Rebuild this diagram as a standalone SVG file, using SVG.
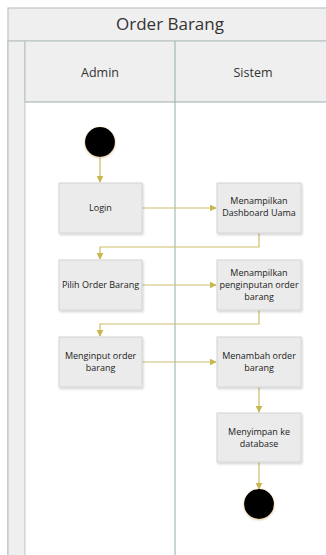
<svg xmlns="http://www.w3.org/2000/svg" width="326" height="555" viewBox="0 0 326 555">
  <style>
    .frame { fill: #efefef; stroke: #bcc6c3; stroke-width: 1.2; }
    .lane { fill: #ffffff; stroke: none; }
    .act { fill: #ebebeb; stroke: #d4d4d4; stroke-width: 1; filter: url(#shadow); }
    .lbl { font-family: "Open Sans", "Segoe UI", "Liberation Sans", sans-serif; font-size: 9px; fill: #222; text-anchor: middle; }
    .hdr { font-family: "Open Sans", "Liberation Sans", sans-serif; font-size: 12.5px; fill: #333; text-anchor: middle; }
    .title { font-family: "Open Sans", "Liberation Sans", sans-serif; font-size: 17px; fill: #333; text-anchor: middle; }
    .flow { fill: none; stroke: #cdbd6a; stroke-width: 1.2; marker-end: url(#arrow); }
    .node-dot { fill: #000; filter: url(#glow); }
  </style>
  <defs>
    <marker id="arrow" viewBox="0 0 10 10" refX="9" refY="5" markerWidth="7" markerHeight="7" orient="auto" markerUnits="userSpaceOnUse">
      <path d="M0,0 L10,5 L0,10 z" fill="#c9b64f"/>
    </marker>
    <filter id="shadow" x="-10%" y="-10%" width="125%" height="130%">
      <feDropShadow dx="1" dy="1.5" stdDeviation="1" flood-color="#000" flood-opacity="0.18"/>
    </filter>
    <filter id="glow" x="-30%" y="-30%" width="160%" height="160%">
      <feDropShadow dx="0" dy="1" stdDeviation="1" flood-color="#b08030" flood-opacity="0.5"/>
    </filter>
  </defs>

  <!-- swimlane frame -->
  <g id="pool">
    <rect class="frame" x="8" y="8" width="330" height="560"/>
    <line x1="8" y1="41" x2="338" y2="41" stroke="#bcc6c3" stroke-width="1.2"/>
    <rect class="frame" x="8" y="41" width="17" height="527"/>
    <rect class="frame" x="25" y="41" width="313" height="61"/>
    <rect class="lane" x="25.6" y="102.6" width="312" height="465"/>
    <line x1="25" y1="102" x2="338" y2="102" stroke="#bcc6c3" stroke-width="1.2"/>
    <line x1="175" y1="41" x2="175" y2="568" stroke="#8fb0a8" stroke-width="1"/>
    <text class="title" x="170" y="30">Order Barang</text>
    <text class="hdr" x="100" y="77">Admin</text>
    <text class="hdr" x="253" y="77">Sistem</text>
  </g>

  <!-- connectors -->
  <g id="connectors">
    <path class="flow" d="M100,158 V182"/>
    <path class="flow" d="M142,208 H216"/>
    <path class="flow" d="M259,233 V247 H100 V259"/>
    <path class="flow" d="M142,285 H216"/>
    <path class="flow" d="M259,310 V324 H100 V336"/>
    <path class="flow" d="M142,362 H216"/>
    <path class="flow" d="M259,387 V412"/>
    <path class="flow" d="M259,462 V489"/>
  </g>

  <g id="start">
    <circle class="node-dot" cx="100" cy="142" r="15"/>
  </g>

  <g id="login">
    <rect class="act" x="59" y="183" width="83" height="50"/>
    <text class="lbl" x="100.5" y="211">Login</text>
  </g>

  <g id="dashboard">
    <rect class="act" x="217" y="183" width="84" height="50"/>
    <text class="lbl" x="259" y="204">Menampilkan</text>
    <text class="lbl" x="259" y="216">Dashboard Uama</text>
  </g>

  <g id="pilih-order">
    <rect class="act" x="59" y="260" width="83" height="50"/>
    <text class="lbl" x="100.5" y="288">Pilih Order Barang</text>
  </g>

  <g id="form-order">
    <rect class="act" x="217" y="260" width="84" height="50"/>
    <text class="lbl" x="259" y="276">Menampilkan</text>
    <text class="lbl" x="259" y="288">penginputan order</text>
    <text class="lbl" x="259" y="300">barang</text>
  </g>

  <g id="input-order">
    <rect class="act" x="59" y="337" width="83" height="50"/>
    <text class="lbl" x="100.5" y="359">Menginput order</text>
    <text class="lbl" x="100.5" y="371">barang</text>
  </g>

  <g id="tambah-order">
    <rect class="act" x="217" y="337" width="84" height="50"/>
    <text class="lbl" x="259" y="359">Menambah order</text>
    <text class="lbl" x="259" y="371">barang</text>
  </g>

  <g id="simpan">
    <rect class="act" x="217" y="413" width="84" height="49"/>
    <text class="lbl" x="259" y="435">Menyimpan ke</text>
    <text class="lbl" x="259" y="447">database</text>
  </g>

  <g id="end">
    <circle class="node-dot" cx="259" cy="504" r="15"/>
  </g>
</svg>
